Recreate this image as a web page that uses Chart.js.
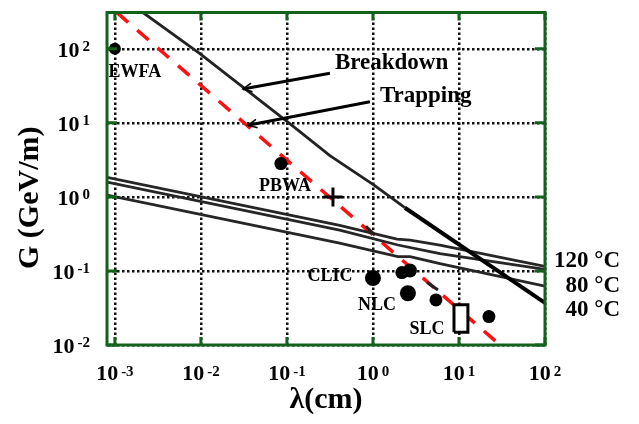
<!DOCTYPE html>
<html>
<head>
<meta charset="utf-8">
<script src="https://cdn.jsdelivr.net/npm/chart.js@4/dist/chart.umd.min.js"></script>
<style>html,body{margin:0;padding:0;background:#fff;}canvas{display:block;}</style>
</head>
<body>
<canvas id="c" width="639" height="424"></canvas>
<script>
// ---- axis ticks ----
const xTickValues = [1e-3, 1e-2, 1e-1, 1, 10, 100];
const xTickExponents = ['-3', '-2', '-1', '0', '1', '2'];
const yTickValues = [1e-2, 1e-1, 1, 10, 100];
const yTickExponents = ['-2', '-1', '0', '1', '2'];
const xTitle = 'λ(cm)';
const yTitle = 'G (GeV/m)';

// ---- curves: [lambda (cm), G (GeV/m)] ----
const trappingLine = [[0.001054, 309], [30.0, 0.01]];
const trappingBlackDashes = [[0.830, 0.401], [1.055, 0.304], [null, null], [4.25, 0.0705], [5.70, 0.0552]];
const breakdownThin = [[0.00212, 309], [0.00973, 85.9], [0.1026, 10.2], [0.316, 3.6], [1.03, 1.44], [2.35, 0.714]];
const breakdownThick = [[2.35, 0.714], [100, 0.037]];
const heat120 = [[0.00081, 1.84], [0.41, 0.413], [1.9, 0.269], [2.7, 0.261], [6.0, 0.224], [100, 0.115]];
const heat80 = [[0.00081, 1.58], [0.41, 0.355], [1.95, 0.224], [6.0, 0.171], [100, 0.105]];
const heat40 = [[0.00081, 1.06], [0.41, 0.238], [1.95, 0.156], [2.7, 0.156], [6.0, 0.126], [100, 0.0624]];

// ---- machines ----
const machineX = [0.001, 0.085, 1.0, 2.17, 2.69, 2.55, 5.4, 22.3];
const machineY = [100, 2.82, 0.080, 0.095, 0.1016, 0.050, 0.0406, 0.0242];
const crossX = [0.343];
const crossY = [1.0];
const slcBox = [[8.75, 0.0149], [12.7, 0.0149], [12.7, 0.0349], [8.75, 0.0349], [8.75, 0.0149]];

// ---- labels (text, x, y in data units) ----
const machineLabels = ['EWFA', 'PBWA', 'CLIC', 'NLC', 'SLC'];
const machineLabelX = [0.00171, 0.0948, 0.316, 1.113, 4.25];
const machineLabelY = [41.3, 1.20, 0.0726, 0.0300, 0.0140];
const tempLabels = ['120 °C', '80 °C', '40 °C'];
const tempLabelY = [0.1148, 0.0519, 0.0249];
const noteText = ['Breakdown', 'Trapping'];
const noteX = [0.361, 1.205];
const noteY = [52.7, 19.3];
const arrowFromX = [0.316, 0.923];
const arrowFromY = [46.6, 19.3];
const arrowToX = [0.0308, 0.0352];
const arrowToY = [28.6, 9.27];

// ---- styles ----
const machineRadius = [6, 6.5, 8, 6.5, 7, 8, 6.5, 6.5];
const FONT = '"Liberation Serif","Times New Roman",serif';
const FRAME = '#12621e';

const pts = arr => arr.map(p => ({x: p[0], y: p[1]}));

const overlay = {
  id: 'overlay',
  afterDatasetsDraw(chart) {
    const {ctx, chartArea: a, scales: {x, y}} = chart;
    ctx.save();
    // frame
    ctx.strokeStyle = FRAME;
    ctx.lineWidth = 3;
    ctx.strokeRect(a.left, a.top, a.right - a.left, a.bottom - a.top);
    ctx.beginPath();
    xTickValues.forEach(v => {
      const px = x.getPixelForValue(v);
      ctx.moveTo(px, a.top); ctx.lineTo(px, a.top + 8);
      ctx.moveTo(px, a.bottom); ctx.lineTo(px, a.bottom - 8);
    });
    yTickValues.forEach(v => {
      const py = y.getPixelForValue(v);
      ctx.moveTo(a.left, py); ctx.lineTo(a.left + 10, py);
      ctx.moveTo(a.right, py); ctx.lineTo(a.right - 10, py);
    });
    ctx.stroke();

    ctx.fillStyle = '#000';
    ctx.textBaseline = 'alphabetic';
    const big = 'bold 22px ' + FONT, small = 'bold 15px ' + FONT;
    // x tick labels
    xTickValues.forEach((v, i) => {
      const px = x.getPixelForValue(v);
      ctx.font = big; const w1 = ctx.measureText('10').width;
      ctx.font = small; const w2 = ctx.measureText(xTickExponents[i]).width;
      const gap = 3, left = px - (w1 + gap + w2) / 2;
      ctx.textAlign = 'left';
      ctx.font = big; ctx.fillText('10', left, a.bottom + 35);
      ctx.font = small; ctx.fillText(xTickExponents[i], left + w1 + gap, a.bottom + 31);
    });
    // y tick labels
    yTickValues.forEach((v, i) => {
      const py = y.getPixelForValue(v);
      ctx.font = small; const w2 = ctx.measureText(yTickExponents[i]).width;
      const right = a.left - 17, gap = 3;
      ctx.textAlign = 'left';
      ctx.fillText(yTickExponents[i], right - w2, py + 2);
      ctx.font = big; const w1 = ctx.measureText('10').width;
      ctx.fillText('10', right - w2 - gap - w1, py + 8);
    });
    // axis titles
    ctx.font = 'bold 30px ' + FONT;
    ctx.textAlign = 'center';
    ctx.fillText(xTitle, (a.left + a.right) / 2, a.bottom + 63);
    ctx.save();
    ctx.translate(30, (a.top + a.bottom) / 2 + 19);
    ctx.rotate(-Math.PI / 2);
    ctx.textBaseline = 'middle';
    ctx.fillText(yTitle, 0, 0);
    ctx.restore();

    // machine labels
    ctx.font = 'bold 18px ' + FONT;
    ctx.textAlign = 'center';
    machineLabels.forEach((t, i) => {
      ctx.fillText(t, x.getPixelForValue(machineLabelX[i]), y.getPixelForValue(machineLabelY[i]));
    });
    // temperature labels
    ctx.font = 'bold 23px ' + FONT;
    ctx.textAlign = 'right';
    tempLabels.forEach((t, i) => {
      ctx.fillText(t, a.right + 75, y.getPixelForValue(tempLabelY[i]));
    });
    // notes
    ctx.textAlign = 'left';
    noteText.forEach((t, i) => {
      ctx.fillText(t, x.getPixelForValue(noteX[i]), y.getPixelForValue(noteY[i]));
    });
    // arrows
    ctx.strokeStyle = '#000';
    ctx.lineWidth = 3;
    ctx.lineCap = 'butt';
    noteText.forEach((t, i) => {
      const x0 = x.getPixelForValue(arrowFromX[i]), y0 = y.getPixelForValue(arrowFromY[i]);
      const x1 = x.getPixelForValue(arrowToX[i]), y1 = y.getPixelForValue(arrowToY[i]);
      ctx.beginPath(); ctx.moveTo(x0, y0); ctx.lineTo(x1, y1); ctx.stroke();
      const ang = Math.atan2(y1 - y0, x1 - x0);
      ctx.lineWidth = 1.5;
      ctx.beginPath();
      ctx.moveTo(x1 - 10 * Math.cos(ang - 0.45), y1 - 10 * Math.sin(ang - 0.45));
      ctx.lineTo(x1, y1);
      ctx.lineTo(x1 - 10 * Math.cos(ang + 0.45), y1 - 10 * Math.sin(ang + 0.45));
      ctx.stroke();
      ctx.lineWidth = 3;
    });
    ctx.restore();
  }
};

const lineDs = (data, color, width, dash) => ({
  data: pts(data), showLine: true, borderColor: color, borderWidth: width,
  borderDash: dash || [], pointRadius: 0, fill: false, tension: 0, spanGaps: false
});

new Chart(document.getElementById('c'), {
  type: 'scatter',
  data: {
    datasets: [
      {
        data: machineX.map((v, i) => ({x: v, y: machineY[i]})),
        pointRadius: machineRadius, backgroundColor: '#000', borderWidth: 0, pointStyle: 'circle'
      },
      {
        data: crossX.map((v, i) => ({x: v, y: crossY[i]})),
        pointStyle: 'cross', pointRadius: 9.5, borderColor: '#000', borderWidth: 3
      },
      Object.assign(lineDs(slcBox, '#000', 3), {fill: 'shape', backgroundColor: '#fff'}),
      lineDs(trappingBlackDashes, '#222', 3),
      lineDs(breakdownThick, '#000', 4),
      lineDs(breakdownThin, '#222', 2.8),
      lineDs(heat120, '#262626', 2.8),
      lineDs(heat80, '#262626', 2.8),
      lineDs(heat40, '#262626', 2.8),
      lineDs(trappingLine, '#ff1010', 3.5, [15, 12])
    ]
  },
  options: {
    responsive: false,
    animation: false,
    layout: {padding: {left: 107, right: 94, top: 6, bottom: 79}},
    plugins: {legend: {display: false}, tooltip: {enabled: false}},
    scales: {
      x: {
        type: 'logarithmic', min: 0.00081, max: 100,
        afterBuildTicks: s => { s.ticks = xTickValues.map(v => ({value: v})); },
        ticks: {display: false},
        grid: {color: '#111', lineWidth: 2.5, drawTicks: false},
        border: {display: false, dash: [2.5, 2.5]}
      },
      y: {
        type: 'logarithmic', min: 0.01, max: 309,
        afterBuildTicks: s => { s.ticks = yTickValues.map(v => ({value: v})); },
        ticks: {display: false},
        grid: {color: '#111', lineWidth: 2.5, drawTicks: false},
        border: {display: false, dash: [2.5, 2.5]}
      }
    }
  },
  plugins: [overlay]
});
</script>
</body>
</html>
